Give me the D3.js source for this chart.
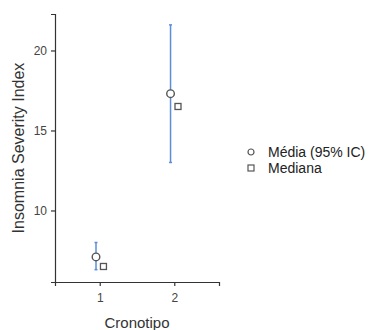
<!DOCTYPE html>
<html>
<head>
<meta charset="utf-8">
<script src="https://cdn.jsdelivr.net/npm/d3@7"></script>
<style>
  body { margin: 0; background: #fff; }
  svg { display: block; font-family: "Liberation Sans", Arial, sans-serif; }
</style>
</head>
<body>
<svg id="chart" width="374" height="330"></svg>
<script>
// Insomnia Severity Index by chronotype
const categories = [1, 2];
const means = [7.1, 17.3];
const ciLower = [6.3, 13.0];
const ciUpper = [8.0, 21.6];
const medians = [6.5, 16.5];
const yTicks = [10, 15, 20];
const legendLabels = ["Média (95% IC)", "Mediana"];

const svg = d3.select("#chart");
const margin = { left: 55, top: 14, right: 155, bottom: 48 };
const W = 374, H = 330;

const x = d3.scaleLinear().domain([0.4, 2.6]).range([margin.left, W - margin.right]);
const y = d3.scaleLinear().domain([5.53, 22.28]).range([H - margin.bottom, margin.top]);

const axisColor = "#333";
const barColor = "#5b8ed8";
const markColor = "#555";

// axes
const yAxis = svg.append("g")
  .attr("transform", `translate(${margin.left},0)`)
  .call(d3.axisLeft(y).tickValues(yTicks).tickSize(4).tickPadding(4));
const xAxis = svg.append("g")
  .attr("transform", `translate(0,${H - margin.bottom})`)
  .call(d3.axisBottom(x).tickValues(categories).tickSize(4).tickPadding(7).tickFormat(d3.format("d")));

[yAxis, xAxis].forEach(g => {
  g.select(".domain").attr("stroke", axisColor).attr("stroke-width", 1.2);
  g.selectAll(".tick line").attr("stroke", axisColor).attr("stroke-width", 1.2);
  g.selectAll(".tick text").attr("fill", "#444").style("font-size", "12px");
});

// axis titles
svg.append("text")
  .attr("transform", `translate(24,${(margin.top + H - margin.bottom) / 2}) rotate(-90)`)
  .attr("text-anchor", "middle")
  .attr("fill", "#333")
  .style("font-size", "16px")
  .text("Insomnia Severity Index");
svg.append("text")
  .attr("x", (margin.left + W - margin.right) / 2)
  .attr("y", 328)
  .attr("text-anchor", "middle")
  .attr("fill", "#333")
  .style("font-size", "15px")
  .text("Cronotipo");

const offset = 0.05;

// confidence interval bars
const bars = svg.append("g");
categories.forEach((c, i) => {
  const cx = x(c - offset);
  bars.append("line")
    .attr("x1", cx).attr("x2", cx)
    .attr("y1", y(ciLower[i])).attr("y2", y(ciUpper[i]))
    .attr("stroke", barColor).attr("stroke-width", 1.5);
  [ciLower[i], ciUpper[i]].forEach(v => {
    bars.append("line")
      .attr("x1", cx - 1.5).attr("x2", cx + 1.5)
      .attr("y1", y(v)).attr("y2", y(v))
      .attr("stroke", barColor).attr("stroke-width", 1.5);
  });
});

// means
svg.append("g").selectAll("circle")
  .data(categories)
  .join("circle")
  .attr("cx", d => x(d - offset))
  .attr("cy", (d, i) => y(means[i]))
  .attr("r", 3.8)
  .attr("fill", "#fff")
  .attr("stroke", markColor)
  .attr("stroke-width", 1.4);

// medians
const s = 6;
svg.append("g").selectAll("rect")
  .data(categories)
  .join("rect")
  .attr("x", d => x(d + offset) - s / 2)
  .attr("y", (d, i) => y(medians[i]) - s / 2)
  .attr("width", s).attr("height", s)
  .attr("fill", "#fff")
  .attr("stroke", markColor)
  .attr("stroke-width", 1.3);

// legend
const legend = svg.append("g").attr("transform", "translate(251,152)");
const rowH = 16;
legend.append("circle")
  .attr("cx", 0).attr("cy", 0).attr("r", 3)
  .attr("fill", "#fff").attr("stroke", markColor).attr("stroke-width", 1.2);
legend.append("rect")
  .attr("x", -3).attr("y", rowH - 3).attr("width", 6).attr("height", 6)
  .attr("fill", "#fff").attr("stroke", markColor).attr("stroke-width", 1.2);
legend.selectAll("text")
  .data(legendLabels)
  .join("text")
  .attr("x", 17)
  .attr("y", (d, i) => i * rowH)
  .attr("dy", "0.35em")
  .attr("fill", "#222")
  .style("font-size", "14px")
  .text(d => d);
</script>
</body>
</html>
